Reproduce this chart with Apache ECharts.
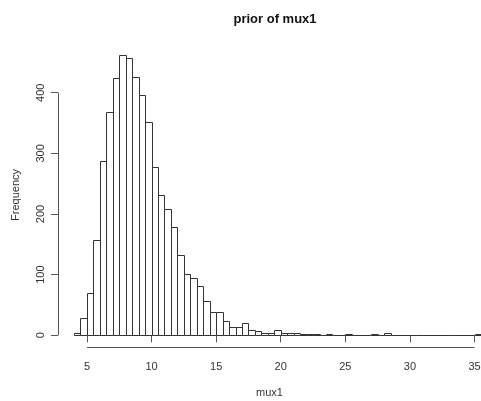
<!DOCTYPE html>
<html>
<head>
<meta charset="utf-8">
<script src="https://cdn.jsdelivr.net/npm/echarts@6/dist/echarts.min.js"></script>
<style>html,body{margin:0;padding:0;background:#fff;}#c{width:481px;height:401px;}</style>
</head>
<body>
<div id="c"></div>
<script>
const binLower = [4,4.5,5,5.5,6,6.5,7,7.5,8,8.5,9,9.5,10,10.5,11,11.5,12,12.5,13,13.5,14,14.5,15,15.5,16,16.5,17,17.5,18,18.5,19,19.5,20,20.5,21,21.5,22,22.5,23,23.5,24,24.5,25,25.5,26,26.5,27,27.5,28,28.5,29,29.5,30,30.5,31,31.5,32,32.5,33,33.5,34,34.5,35];
const binWidth = 0.5;
const counts = [3,29,70,157,288,369,424,463,458,426,396,351,277,231,208,178,132,101,94,81,57,38,39,23,14,14,21,9,7,3,3,8,4,3,4,1,1,1,0,1,0,0,1,0,0,0,1,0,3,0,0,0,0,0,0,0,0,0,0,0,0,0,1];
const xTicks = [5,10,15,20,25,30,35];
const yTicks = [0,100,200,300,400];
const titleText = 'prior of mux1';
const xName = 'mux1';
const yName = 'Frequency';

const bars = binLower.map((x, i) => [x, x + binWidth, counts[i]]);
const axisCol = '#555';
const textCol = '#333';
const fontFam = 'Liberation Sans, Arial, sans-serif';

const chart = echarts.init(document.getElementById('c'));
chart.setOption({
  animation: false,
  backgroundColor: '#fff',
  title: {
    text: titleText, left: 270, top: 8, textAlign: 'center',
    textStyle: {fontFamily: fontFam, fontWeight: 'bold', fontSize: 13, color: '#111'}
  },
  grid: {left: 58, right: 0, top: 43.3, bottom: 54.5, containLabel: false, outerBoundsMode: 'none'},
  xAxis: {
    type: 'value', min: 2.76, max: 35.5,
    splitLine: {show: false},
    axisLine: {show: false},
    axisTick: {show: true, customValues: xTicks, length: 7, lineStyle: {color: axisCol}},
    axisLabel: {customValues: xTicks, margin: 15, fontSize: 11, color: textCol, fontFamily: fontFam},
    name: xName, nameLocation: 'middle', nameGap: 41,
    nameTextStyle: {fontSize: 11, color: textCol, fontFamily: fontFam}
  },
  yAxis: {
    type: 'value', min: -18.5, max: 481.5,
    splitLine: {show: false},
    axisLine: {show: false},
    axisTick: {show: true, customValues: yTicks, length: 7, lineStyle: {color: axisCol}},
    axisLabel: {customValues: yTicks, rotate: 90, margin: 12, fontSize: 11, color: textCol, fontFamily: fontFam},
    name: yName, nameLocation: 'middle', nameGap: 37, nameRotate: 90,
    nameTextStyle: {fontSize: 11, color: textCol, fontFamily: fontFam}
  },
  series: [
    {
      type: 'custom',
      data: bars,
      clip: false,
      renderItem: function (params, api) {
        const p0 = api.coord([api.value(0), api.value(2)]);
        const p1 = api.coord([api.value(1), 0]);
        const bottom = Math.round(p1[1]) + 0.5;
        let top = Math.round(p0[1]) + 0.5;
        if (api.value(2) > 0 && top > bottom - 1) top = bottom - 1;
        return {
          type: 'rect',
          shape: {x: Math.round(p0[0]) + 0.5, y: top, width: Math.round(p1[0]) - Math.round(p0[0]), height: bottom - top},
          style: {fill: '#fff', stroke: '#333', lineWidth: 1}
        };
      }
    },
    {
      type: 'custom',
      data: [[xTicks[0], xTicks[xTicks.length - 1]]],
      clip: false,
      renderItem: function (params, api) {
        const a = api.coord([api.value(0), -18.5]);
        const b = api.coord([api.value(1), -18.5]);
        return {type: 'line', shape: {x1: a[0], y1: Math.round(a[1]) + 0.5, x2: b[0], y2: Math.round(b[1]) + 0.5}, style: {stroke: axisCol, lineWidth: 1}};
      }
    },
    {
      type: 'custom',
      data: [[yTicks[0], yTicks[yTicks.length - 1]]],
      clip: false,
      renderItem: function (params, api) {
        const a = api.coord([2.76, api.value(0)]);
        const b = api.coord([2.76, api.value(1)]);
        return {type: 'line', shape: {x1: Math.round(a[0]) + 0.5, y1: a[1], x2: Math.round(b[0]) + 0.5, y2: b[1]}, style: {stroke: axisCol, lineWidth: 1}};
      }
    }
  ]
});
</script>
</body>
</html>
